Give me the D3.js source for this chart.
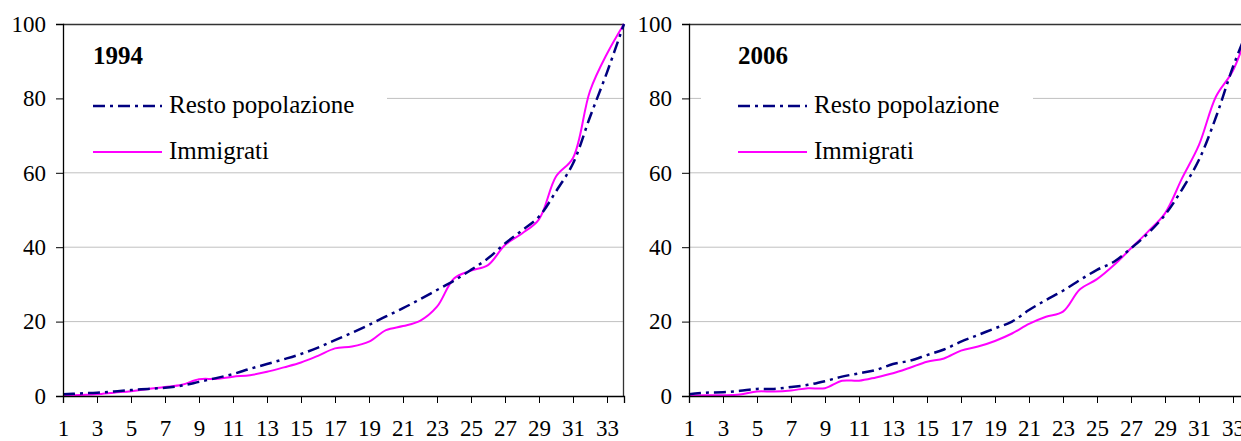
<!DOCTYPE html>
<html>
<head>
<meta charset="utf-8">
<script src="https://cdn.jsdelivr.net/npm/d3@7"></script>
<style>
  body { margin: 0; background: #fff; }
</style>
</head>
<body>
<div id="chart"></div>
<script>
// categories 1..34
var categories = d3.range(1, 35);
var tickLabels = d3.range(1, 35, 2);
var yTicks = [0, 20, 40, 60, 80, 100];

var resto1994 = [0.45, 0.7, 0.9, 1.2, 1.6, 1.9, 2.2, 2.8, 3.8, 4.8, 5.9, 7.3, 8.6, 9.9, 11.3, 13.0, 15.0,
  17.0, 19.1, 21.4, 23.6, 26.0, 28.5, 31.0, 33.9, 37.0, 41.0, 44.5, 48.2, 55, 62.5, 75, 87, 100];
var immigrati1994 = [0.1, 0.3, 0.45, 0.9, 1.3, 1.9, 2.4, 3.0, 4.5, 4.6, 5.2, 5.6, 6.5, 7.7, 9.0, 10.8, 12.8,
  13.3, 14.6, 17.7, 18.8, 20.2, 24.0, 31.6, 33.7, 35.2, 40.6, 43.7, 47.5, 59, 64, 82, 92, 100];

var resto2006 = [0.45, 0.9, 1.0, 1.4, 1.9, 1.9, 2.4, 3.0, 4.0, 5.2, 6.1, 7.0, 8.6, 9.5, 11.0, 12.5, 14.6,
  16.4, 18.2, 20.0, 23.1, 25.8, 28.3, 31.2, 33.9, 36.1, 39.7, 43.7, 48.7, 55.5, 63.5, 75, 88.5, 100];
var immigrati2006 = [0.1, 0.2, 0.2, 0.4, 1.2, 1.2, 1.5, 2.1, 2.1, 4.1, 4.1, 5.0, 6.1, 7.6, 9.2, 10.1, 12.2,
  13.3, 14.8, 16.8, 19.4, 21.3, 22.7, 28.7, 31.4, 35.2, 39.7, 44.2, 49.1, 58.5, 67.5, 80.5, 87.5, 100];

var seriesNames = ["Resto popolazione", "Immigrati"];

var serif = "'Liberation Serif', 'Times New Roman', serif";

var svgWidth = 1241;
var svgHeight = 441;
var plotTop = 24;
var plotHeight = 372;
var plotWidth = 561;

var svg = d3.select("#chart")
  .append("svg")
  .attr("width", svgWidth)
  .attr("height", svgHeight);

svg.append("rect")
  .attr("width", svgWidth)
  .attr("height", svgHeight)
  .attr("fill", "#fff");

function drawPanel(left, title, resto, immigrati, legend) {
  var x = d3.scaleLinear().domain([1, 34]).range([0, plotWidth]);
  var y = d3.scaleLinear().domain([0, 100]).range([plotHeight, 0]);

  var g = svg.append("g")
    .attr("transform", `translate(${left}, ${plotTop})`);

  // gridlines
  g.selectAll(".grid")
    .data(yTicks.filter(d => d > 0 && d < 100))
    .enter()
    .append("line")
    .attr("x1", 0)
    .attr("x2", plotWidth)
    .attr("y1", d => y(d))
    .attr("y2", d => y(d))
    .attr("stroke", "#c0c0c0")
    .attr("stroke-width", 1);

  // white legend box hides the 80 gridline
  g.append("rect")
    .attr("x", legend.boxX)
    .attr("y", 10)
    .attr("width", legend.boxW)
    .attr("height", 135)
    .attr("fill", "#fff");

  // frame top + right
  g.append("path")
    .attr("d", `M0,0.5H${plotWidth - 0.5}V${plotHeight}`)
    .attr("fill", "none")
    .attr("stroke", "#333")
    .attr("stroke-width", 1.3);

  var line = d3.line()
    .x((d, i) => x(categories[i]))
    .y(d => y(d))
    .curve(d3.curveCatmullRom.alpha(0.5));

  g.append("path")
    .datum(immigrati)
    .attr("d", line)
    .attr("fill", "none")
    .attr("stroke", "#ff00ff")
    .attr("stroke-width", 2);

  g.append("path")
    .datum(resto)
    .attr("d", line)
    .attr("fill", "none")
    .attr("stroke", "#000080")
    .attr("stroke-width", 2.5)
    .attr("stroke-dasharray", "12,5,3,5");

  // axes
  var leftAxis = d3.axisLeft(y)
    .tickValues(yTicks)
    .tickSize(7)
    .tickPadding(10);

  var yAxis = g.append("g")
    .call(leftAxis);
  yAxis.select(".domain").attr("stroke", "#000").attr("stroke-width", 1.3);
  yAxis.selectAll("line").attr("stroke", "#000");
  yAxis.selectAll("text")
    .attr("fill", "#000")
    .style("font-family", serif)
    .style("font-size", "23px");

  var bottomAxis = d3.axisBottom(x)
    .tickValues(tickLabels)
    .tickFormat(d3.format("d"))
    .tickSize(7)
    .tickPadding(17);

  var xAxis = g.append("g")
    .attr("transform", `translate(0, ${plotHeight})`)
    .call(bottomAxis);
  xAxis.select(".domain").attr("stroke", "#000").attr("stroke-width", 1.3);
  xAxis.selectAll("line").attr("stroke", "#000");
  xAxis.selectAll("text")
    .attr("fill", "#000")
    .style("font-family", serif)
    .style("font-size", "23px");

  // title + legend
  g.append("text")
    .attr("x", legend.x)
    .attr("y", 40)
    .style("font-family", serif)
    .style("font-size", "25px")
    .style("font-weight", "bold")
    .text(title);

  var items = [
    {name: seriesNames[0], color: "#000080", width: 2.5, dash: "12,5,3,5", y: 82},
    {name: seriesNames[1], color: "#ff00ff", width: 2, dash: null, y: 128}
  ];

  items.forEach(function(item) {
    g.append("line")
      .attr("x1", legend.x)
      .attr("x2", legend.x + 69)
      .attr("y1", item.y)
      .attr("y2", item.y)
      .attr("stroke", item.color)
      .attr("stroke-width", item.width)
      .attr("stroke-dasharray", item.dash);

    g.append("text")
      .attr("x", legend.x + 76)
      .attr("y", item.y + 7)
      .style("font-family", serif)
      .style("font-size", "25px")
      .text(item.name);
  });
}

drawPanel(63, "1994", resto1994, immigrati1994, {x: 30, boxX: -7, boxW: 331});
drawPanel(689, "2006", resto2006, immigrati2006, {x: 49, boxX: 12, boxW: 332});
</script>
</body>
</html>
